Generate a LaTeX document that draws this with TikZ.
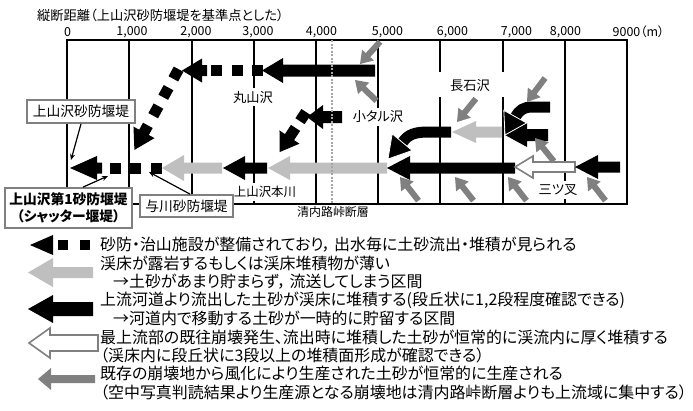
\documentclass[tikz,border=0pt]{standalone}
\usepackage{fontspec}
\setmainfont{Noto Sans CJK JP}[RawFeature=+palt]
\usetikzlibrary{arrows.meta}
\definecolor{lgray}{HTML}{BFBFBF}
\definecolor{mgray}{HTML}{808080}
% #1 style, #2 tip (x,y), #3 rotation, #4 total length, #5 shaft width, #6 head width, #7 head length
\newcommand\harrow[7]{\path[#1,shift={#2},rotate=#3] (0,0) -- (#7,#6/2) -- (#7,#5/2) -- (#4,#5/2) -- (#4,-#5/2) -- (#7,-#5/2) -- (#7,-#6/2) -- cycle;}
\newsavebox\legbox
% shrink a line horizontally if it is wider than #1
\newcommand\fitline[2]{\sbox\legbox{#2}\ifdim\wd\legbox>#1\relax\scalebox{\fpeval{(#1)/(\the\wd\legbox)}}[1]{\usebox\legbox}\else\usebox\legbox\fi}
\begin{document}
\begin{tikzpicture}[x=1bp,y=-1bp,
  lbl/.style={font=\fontsize{13.3}{13.3}\selectfont, inner sep=3bp},
  num/.style={font=\fontsize{12.5}{12.5}\selectfont, inner sep=0bp},
  cbox/.style={draw=mgray, line width=1.8bp, fill=white, inner sep=0bp, font=\fontsize{13.8}{16}\selectfont},
  callout/.style={line width=1.2bp, -{Stealth[length=6bp,width=5bp]}},
  leg/.style={anchor=west, inner sep=0bp, font=\fontsize{16}{16}\selectfont},
  gridline/.style={line width=2bp},
  fault/.style={draw=gray!70, line width=2.5bp, dash pattern=on 2bp off 1.5bp},
  blk/.style={fill=black},
  lg/.style={fill=lgray},
  mg/.style={fill=mgray},
  wht/.style={fill=white, draw=mgray, line width=1.6bp, line join=miter},
  bhw/.style={fill=black, draw=white, line width=0.8bp},
  sqdash/.style={line width=11bp, dash pattern=on 11bp off 10bp}
]
\useasboundingbox (0,0) rectangle (693,410);
% title and scale
\node[anchor=west, inner sep=0bp, font=\fontsize{13.3}{13.3}\selectfont] (title) at (37,15) {縦断距離（上山沢砂防堰堤を基準点とした）};
\foreach \xx/\tt in {67.5/0, 132/{1,000}, 196/{2,000}, 258/{3,000}, 321.5/{4,000}, 387.5/{5,000}, 452.5/{6,000}, 516.5/{7,000}, 565.5/{8,000}, 638.5/{9000（m）}}
  \node[num] at (\xx,32) {\tt};
% frame and grid
\draw[gridline] (67,40) rectangle (627,204);
\foreach \xx in {129,192,254,316,378,440,503,565} \draw[gridline] (\xx,40) -- (\xx,204);

% ---- main river (上山沢本川) ----
\harrow{blk}{(70,168)}{0}{32}{11}{24}{27}
\fill (110,162.5) rectangle (121,173.5);
\fill (130,162.5) rectangle (141,173.5);
\fill (151,162.5) rectangle (162,173.5);
\harrow{lg}{(162,168)}{0}{60}{11}{26}{22}
\harrow{blk}{(223,168)}{0}{44}{11}{24}{22}
\harrow{lg}{(268,168)}{0}{119}{11}{24}{22}
\harrow{blk}{(387,168)}{0}{128}{11}{24}{23}
\harrow{wht}{(515,167)}{0}{60}{10}{22}{18}
\harrow{blk}{(575,167)}{0}{45}{11}{24}{23}

% ---- 丸山沢 branch ----
\fill (211,65) rectangle (222,76);
\fill (232,65) rectangle (243,76);
\fill (252,65) rectangle (263,76);
\harrow{blk}{(262,70.5)}{0}{113}{12}{25}{21}
\harrow{blk}{(182,70.5)}{0}{25}{11}{24}{20}
\draw[sqdash] (178.6,69.2) -- (153.2,115.7);
\harrow{blk}{(134.4,149.9)}{61.3}{28}{11}{24}{20}

% ---- 小タル沢 branch ----
\harrow{blk}{(307,117)}{0}{35}{12}{24}{16}
\draw[sqdash] (306,112) -- (300,121.2);
\harrow{blk}{(279.6,152.1)}{56.6}{29}{11}{24}{18}

% ---- 長石沢 branch ----
\harrow{lg}{(452,132)}{0}{50}{11}{22}{24}
\draw[line width=11bp] (451,132) -- (428,132) .. controls (416,132) and (408,134) .. (402.5,142.5);
\harrow{bhw}{(388,159)}{50}{22}{0}{26}{22}

% ---- 7000-8000 ----
\harrow{blk}{(505,135)}{0}{43}{12}{24}{22}
\draw[line width=11bp] (550,107) -- (532,107) .. controls (524,107) and (519,110) .. (515.5,117);
\harrow{bhw}{(505,135)}{61}{21}{0}{26}{21}

% ---- small gray arrows (sediment production) ----
\harrow{mg}{(360,64)}{48}{30}{6}{16}{12}
\harrow{mg}{(457,122)}{51}{30}{6}{16}{12}
\harrow{mg}{(527,102)}{53}{30}{6}{16}{12}
\harrow{mg}{(355,80)}{-44}{30}{6}{16}{12}
\harrow{mg}{(535,138)}{-51}{30}{6}{16}{12}
\foreach \xx in {400,455,508,587} {\harrow{mg}{(\xx,177)}{-52}{30}{6}{16}{12}}

% ---- fault ----
\draw[fault] (332,40) -- (332,204);
\node[font=\fontsize{12}{12}\selectfont, inner sep=0bp] (faultlbl) at (333,212) {清内路峠断層};

% ---- labels ----
\node[lbl, fill=white] (maru) at (253,97) {丸山沢};
\node[lbl, fill=white] (kotaru) at (378,117) {小タル沢};
\fill[white] (437,72) rectangle (505,97);
\node[lbl] (naga) at (470,86) {長石沢};
\node[lbl, fill=white, font=\fontsize{12.5}{12.5}\selectfont] (honkawa) at (265,192) {上山沢本川};
\node[lbl, fill=white] (mitsu) at (558,190) {三ツ叉};

% ---- callouts ----
\node[cbox, minimum width=108bp, minimum height=23bp] (b1) at (81,111.5) {上山沢砂防堰堤};
\coordinate (p1) at (71,160);
\draw[callout] (b1.south) -- (p1);
\node[cbox, minimum width=127bp, minimum height=40bp, align=center, font=\fontsize{13.8}{16.5}\selectfont\bfseries] (b2) at (68.5,208) {上山沢第1砂防堰堤\\（シャッター堰堤）};
\coordinate (p2) at (108,176);
\draw[callout] ([xshift=14.5bp]b2.north) -- (p2);
\node[cbox, minimum width=93bp, minimum height=22bp] (b3) at (186.5,206) {与川砂防堰堤};
\coordinate (p3) at (149,172);
\draw[callout] ([xshift=3.5bp]b3.north) -- (p3);

% ---- legend ----
\harrow{blk}{(30,245)}{0}{23}{0}{20}{23}
\fill (58,240) rectangle (68,250);
\fill (80,240) rectangle (90,250);
\harrow{lg}{(28,272.5)}{0}{65}{11}{29}{25}
\harrow{blk}{(28,309)}{0}{65}{14}{28}{25}
\harrow{wht}{(29,343)}{0}{69}{16}{30}{21}
\harrow{mg}{(38,379)}{0}{57}{8}{22}{13}
\node[leg] (l1) at (100,245) {\fitline{588bp}{砂防・治山施設が整備されており，~出水毎に土砂流出・堆積が見られる}};
\node[leg] (l2) at (100,263.4) {\fitline{588bp}{渓床が露岩するもしくは渓床堆積物が薄い}};
\node[leg] (l3) at (113,281.8) {\fitline{575bp}{→土砂があまり貯まらず，~流送してしまう区間}};
\node[leg] (l4) at (100,300.2) {\fitline{588bp}{上流河道より流出した土砂が渓床に堆積する(段丘状に1,2段程度確認できる)}};
\node[leg] (l5) at (113,318.6) {\fitline{575bp}{→河道内で移動する土砂が一時的に貯留する区間}};
\node[leg] (l6) at (100,337) {\fitline{585bp}{最上流部の既往崩壊発生、流出時に堆積した土砂が恒常的に渓流内に厚く堆積する}};
\node[leg] (l7) at (100,355.4) {\fitline{588bp}{（渓床内に段丘状に3段以上の堆積面形成が確認できる）}};
\node[leg] (l8) at (100,373.8) {\fitline{588bp}{既存の崩壊地から風化により生産された土砂が恒常的に生産される}};
\node[leg] (l9) at (100,392.2) {\fitline{590bp}{（空中写真判読結果より生産源となる崩壊地は清内路峠断層よりも上流域に集中する）}};
\end{tikzpicture}
\end{document}
